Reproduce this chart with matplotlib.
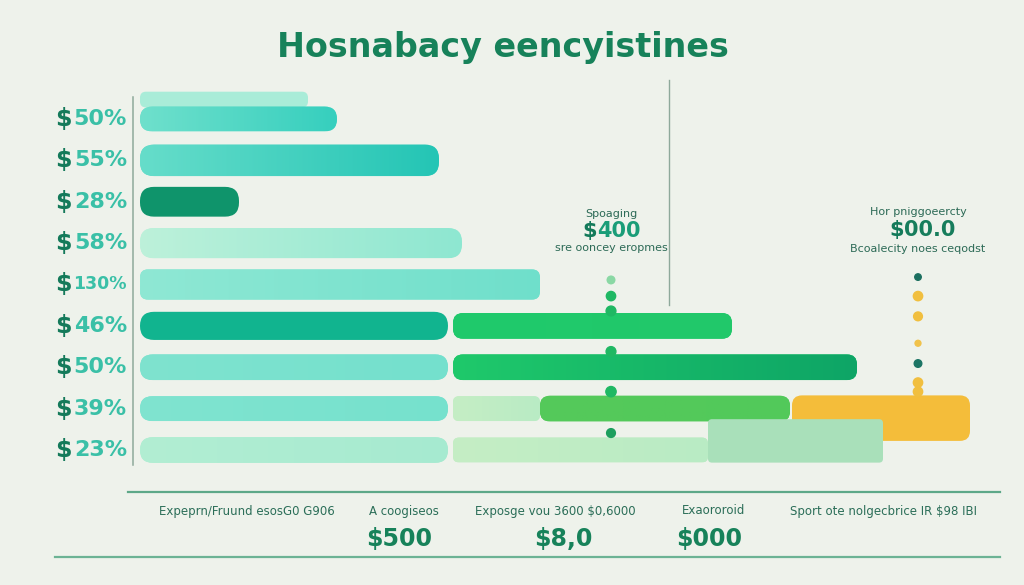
import numpy as np
import matplotlib
matplotlib.use("Agg")
import matplotlib.pyplot as plt
from matplotlib.patches import FancyBboxPatch
from matplotlib import font_manager

# ---------------- data ----------------
row_labels = ["50%", "55%", "28%", "58%", "130%", "46%", "50%", "39%", "23%"]
base_values = [197, 299, 99, 322, 400, 308, 308, 308, 308]
ghost_value = 168

green_rows = [5, 6, 7]
green_start = [313, 313, 400]
green_width = [279, 404, 250]

light_rows = [7, 8]
light_start = [313, 313]
light_width = [87, 255]

yellow_row = 7
yellow_start = 652
yellow_width = 178

pale_row = 8
pale_start = 568
pale_width = 175

dots1_value = 471
dots1_rows = [3.89, 4.28, 4.64, 5.62, 6.59, 7.59]
dots2_value = 778
dots2_rows = [3.82, 4.28, 4.77, 5.42, 5.91, 6.37, 6.59]

title = "Hosnabacy eencyistines"
annot1 = ["Spoaging", "$", "400", "sre ooncey eropmes"]
annot2 = ["Hor pniggoeercty", "$", "00.0", "Bcoalecity noes ceqodst"]
captions = ["Expeprn/Fruund esosG0 G906", "A coogiseos", "Exposge vou 3600 $0,6000",
            "Exaororoid", "Sport ote nolgecbrice IR $98 IBI"]
big_values = ["$500", "$8,0", "$000"]

# ---------------- style ----------------
BG = "#eef2eb"
DARK = "#17825a"
W, H = 1024, 585
avail = {f.name for f in font_manager.fontManager.ttflist}
NARROW = "Liberation Sans Narrow" if "Liberation Sans Narrow" in avail else "DejaVu Sans"

fig = plt.figure(figsize=(W / 100, H / 100), dpi=100, facecolor=BG)
ax = fig.add_axes([0, 0, 1, 1])
ax.set_facecolor(BG)
ROW0, STEP, X0 = 119.0, 41.375, 140.0
ax.set_xlim(-X0, W - X0)
ax.set_ylim((H - ROW0) / STEP, -ROW0 / STEP)
ax.axis("off")

ASPECT = 1.0 / STEP  # y-units per x-unit (pixel)


def px(x, y):
    return x / W, 1 - y / H


def rbar(x, y, w, h, color, r=10, grad=None, z=2):
    """rounded bar centered at row y"""
    rr = min(r, h / ASPECT / 2)
    p = FancyBboxPatch((x, y - h / 2), w, h,
                       boxstyle=f"round,pad=0,rounding_size={rr}",
                       mutation_aspect=ASPECT, fc=color, ec="none", zorder=z)
    ax.add_patch(p)
    if grad is not None:
        cmap = matplotlib.colors.LinearSegmentedColormap.from_list("g", grad)
        im = ax.imshow(np.linspace(0, 1, 256)[None, :], cmap=cmap, aspect="auto",
                       extent=(x, x + w, y + h / 2, y - h / 2), zorder=z,
                       interpolation="bilinear")
        im.set_clip_path(p)
    return p


# ghost bar behind first row
rbar(0, -0.47, ghost_value, 0.38, "#a9ecd8", r=6, z=1)

base_colors = [None, None, "#0f946b", None, None, "#11b48f", None, None, None]
base_grads = [["#6fe0cc", "#36cfbe"], ["#66ddca", "#24c5b5"], None,
              ["#bdf1da", "#8ee7d1"], ["#8fe8d4", "#6fdfcb"], None,
              ["#7fe3cf", "#74e0cd"], ["#80e4d0", "#76e1cd"], ["#b2eed3", "#a6ead0"]]
base_heights = [0.6, 0.76, 0.72, 0.73, 0.73, 0.68, 0.62, 0.6, 0.62]
for i, v in enumerate(base_values):
    c = base_colors[i] or base_grads[i][0]
    rbar(0, i, v, base_heights[i], c, r=14 if v < 400 else 8, grad=base_grads[i])

for r_, s, w in zip(light_rows, light_start, light_width):
    rbar(s, r_, w, 0.6, "#c0edc3", r=6, grad=["#c5eec5", "#b9ebc4"])

green_grads = [["#1fca6c", "#22c86a"], ["#1fc96b", "#0ea566"], ["#55c95a", "#52c95b"]]
for (r_, s, w), g in zip(zip(green_rows, green_start, green_width), green_grads):
    rbar(s, r_, w, 0.62, g[0], r=10, grad=g)

# yellow and pale blocks (taller)
rbar(yellow_start, yellow_row + 0.23, yellow_width, 1.1, "#f4bd3a", r=10, z=3)
rbar(pale_start, pale_row - 0.22, pale_width, 1.05, "#a9e0ba", r=4, z=4)

# dots
ax.scatter([dots1_value] * len(dots1_rows), dots1_rows,
           s=[30, 45, 50, 50, 55, 40],
           c=["#8ad8a4", "#1fb863", "#1fb863", "#1fb863", "#1fb863", "#1d9f5e"], zorder=6)
ax.scatter([dots2_value] * len(dots2_rows), dots2_rows,
           s=[22, 45, 40, 18, 30, 45, 45],
           c=["#1b6f5f", "#f1bf3f", "#f1bf3f", "#f1c24a", "#1c7565", "#f1bf3f", "#f1bf3f"],
           zorder=6)

# axis lines
ax.plot([133 - X0] * 2, [(97 - ROW0) / STEP, (465 - ROW0) / STEP], color="#8ea99b", lw=1.1, zorder=1)
ax.plot([669 - X0] * 2, [(80 - ROW0) / STEP, (305 - ROW0) / STEP], color="#8ea99b", lw=1.0, zorder=1)
ax.plot([128 - X0, 1000 - X0], [(492 - ROW0) / STEP] * 2, color="#5da888", lw=1.6)
ax.plot([55 - X0, 1000 - X0], [(557 - ROW0) / STEP] * 2, color="#6cb394", lw=1.6)

# y labels
for i, lab in enumerate(row_labels):
    y = i
    ax.text(55 - X0, y, "$", color="#147a5a", fontsize=17, ha="left", va="center",
            fontweight="bold", zorder=7)
    ax.text(127 - X0, y, lab, color="#3ac0a7", fontsize=16 if len(lab) <= 3 else 12.5,
            ha="right", va="center", fontweight="bold", zorder=7)

# title
fig.text(*px(503, 48), title, ha="center", va="center", fontsize=24,
         fontweight="bold", color=DARK, family="DejaVu Sans")

# annotations
for cx, lines, yy in [(611, annot1, (214, 231, 248)), (918, annot2, (212, 230, 249))]:
    fig.text(*px(cx, yy[0]), lines[0], ha="center", va="center", fontsize=8,
             color="#2c6a56", family=NARROW)
    fig.text(*px(cx - 14, yy[1]), lines[1], ha="right", va="center", fontsize=15,
             fontweight="bold", color="#137a5a")
    fig.text(*px(cx - 14, yy[1]), lines[2], ha="left", va="center", fontsize=15,
             fontweight="bold", color="#1a9d78" if cx < 700 else "#177d5c")
    fig.text(*px(cx, yy[2]), lines[3], ha="center", va="center", fontsize=8,
             color="#2c6a56", family=NARROW)

# bottom captions
cap_x = [247, 404, 555, 714, 884]
for x, c in zip(cap_x, captions):
    fig.text(*px(x, 511), c, ha="center", va="center", fontsize=8.5,
             color="#2b6e58", family=NARROW)
for x, v in zip([399, 563, 709], big_values):
    fig.text(*px(x, 539), v, ha="center", va="center", fontsize=17,
             fontweight="bold", color="#17825a", family=NARROW)

fig.savefig("out.png", dpi=100, facecolor=BG)
